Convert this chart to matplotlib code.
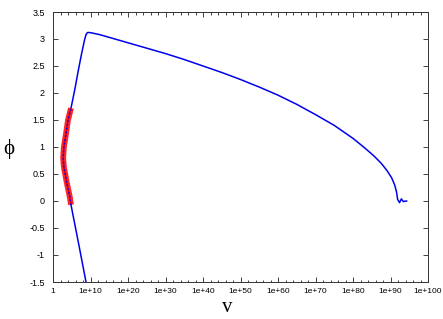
import numpy as np
import matplotlib
matplotlib.use("Agg")
import matplotlib.pyplot as plt
from matplotlib.ticker import FixedLocator, FixedFormatter, NullFormatter

# blue curve: log10(v) and phi
logv_blue = [9.6, 8.8, 7.0, 5.3, 4.8, 4.5, 3.7, 2.9, 2.7, 2.9, 3.5, 4.0, 4.8,
             5.8, 6.7, 7.6, 8.4, 8.8, 9.2, 9.7, 10.5, 12.5, 16.0, 20.0, 25.0,
             30.0, 35.0, 40.0, 45.0, 50.0, 55.0, 60.0, 65.0, 70.0, 75.0, 80.0,
             83.0, 85.5, 87.5, 89.0, 90.3, 91.1, 91.6, 91.9, 92.4, 92.9, 93.4, 94.3]
phi_blue = [-1.8, -1.5, -0.85, -0.25, -0.07, 0.07, 0.33, 0.63, 0.8, 1.0, 1.26,
            1.5, 1.72, 2.06, 2.40, 2.72, 2.98, 3.08, 3.12, 3.12, 3.11, 3.08,
            3.01, 2.93, 2.83, 2.73, 2.62, 2.50, 2.38, 2.25, 2.11, 1.96, 1.79,
            1.60, 1.40, 1.16, 0.99, 0.84, 0.70, 0.57, 0.43, 0.30, 0.17, 0.03,
            -0.03, 0.04, -0.01, 0.0]

# red highlighted piece
logv_red = [4.8, 4.5, 3.7, 2.9, 2.7, 2.9, 3.5, 4.0, 4.8]
phi_red = [-0.07, 0.07, 0.33, 0.63, 0.8, 1.0, 1.26, 1.5, 1.72]

xtick_pow = list(range(0, 101, 10))
xtick_labels = ["1"] + ["1e+%d" % p for p in xtick_pow[1:]]
yticks = [-1.5, -1, -0.5, 0, 0.5, 1, 1.5, 2, 2.5, 3, 3.5]
ytick_labels = ["-1.5", "-1", "-0.5", "0", "0.5", "1", "1.5", "2", "2.5", "3", "3.5"]

fig = plt.figure(figsize=(4.43, 3.19), dpi=100)
ax = fig.add_axes([53 / 443, 1 - 282 / 319, 375 / 443, 270 / 319])

v_blue = 10.0 ** np.array(logv_blue)
v_red = 10.0 ** np.array(logv_red)

ax.plot(v_blue, phi_blue, color="#0000ee", lw=1.1, zorder=2)
ax.plot(v_red, phi_red, color="#ff0000", lw=4.2, alpha=0.85, solid_capstyle="butt", zorder=3)
ax.plot(v_red, phi_red, color="#0000ee", lw=1.1, ls=(0, (1, 1.5)), zorder=4)

ax.set_xscale("log")
ax.set_xlim(1, 1e100)
ax.set_ylim(-1.5, 3.5)

ax.xaxis.set_major_locator(FixedLocator([10.0 ** p for p in xtick_pow]))
ax.xaxis.set_major_formatter(FixedFormatter(xtick_labels))
ax.xaxis.set_minor_locator(FixedLocator([10.0 ** p for p in range(2, 100, 2) if p % 10]))
ax.xaxis.set_minor_formatter(NullFormatter())
ax.set_yticks(yticks)
ax.set_yticklabels(ytick_labels)

ax.tick_params(which="both", direction="in", top=True, right=True, width=0.6, color="#222222")
ax.tick_params(which="major", length=3.5)
ax.tick_params(which="minor", length=1.8)
ax.tick_params(axis="x", pad=4, labelsize=6)
ax.tick_params(axis="y", pad=6, labelsize=6.5)
for lab in ax.get_xticklabels() + ax.get_yticklabels():
    lab.set_family("Liberation Sans")
for s in ax.spines.values():
    s.set_linewidth(0.7)
    s.set_color("#333333")

ax.set_xlabel("v", family="Liberation Serif", fontsize=15)
ax.xaxis.set_label_coords(0.464, -0.096)
ax.xaxis.label.set_va("center")
ax.set_ylabel("\u03d5", family=["Liberation Serif", "DejaVu Serif"], fontsize=15, rotation=0)
ax.yaxis.set_label_coords(-0.117, 0.493)
ax.yaxis.label.set_va("center")

fig.savefig("out.png", dpi=100)
